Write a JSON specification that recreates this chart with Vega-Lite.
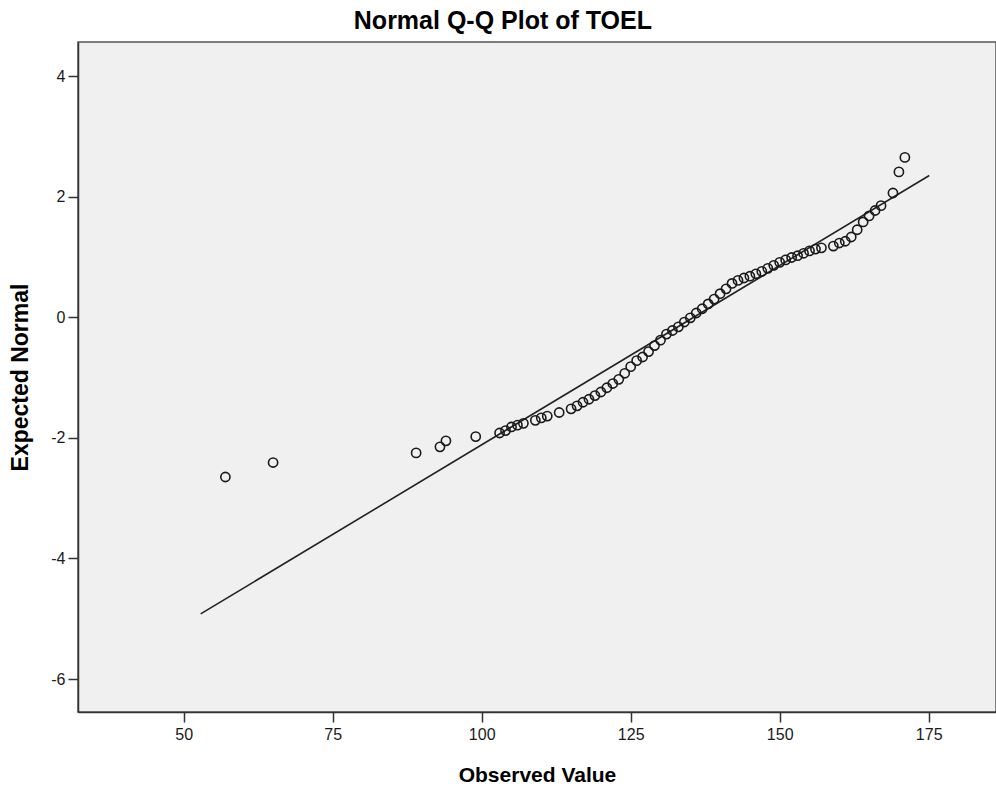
{
  "$schema": "https://vega.github.io/schema/vega-lite/v6.json",
  "width": 918,
  "height": 670,
  "autosize": "none",
  "padding": {"left": 78, "top": 42, "right": 0, "bottom": 81},
  "background": "white",
  "title": {
    "text": "Normal Q-Q Plot of TOEL",
    "font": "Liberation Sans",
    "fontSize": 25,
    "fontWeight": "bold",
    "color": "#000000",
    "anchor": "middle",
    "frame": "bounds",
    "offset": 8
  },
  "config": {
    "view": {"fill": "#F0F0F0", "stroke": "#555555", "strokeWidth": 1.5},
    "axis": {
      "grid": false,
      "labelFont": "Liberation Sans",
      "labelFontSize": 16,
      "labelColor": "#1a1a1a",
      "titleFont": "Liberation Sans",
      "titleFontWeight": "bold",
      "titleColor": "#000000",
      "domainColor": "#333333",
      "domainWidth": 1.5,
      "tickColor": "#333333",
      "tickWidth": 1.5,
      "tickSize": 10
    }
  },
  "datasets": {
    "pts": [
      {"obs": 57, "exp": -2.65},
      {"obs": 65, "exp": -2.41},
      {"obs": 89, "exp": -2.25},
      {"obs": 93, "exp": -2.15},
      {"obs": 94, "exp": -2.05},
      {"obs": 99, "exp": -1.98},
      {"obs": 103, "exp": -1.92},
      {"obs": 104, "exp": -1.88},
      {"obs": 105, "exp": -1.82},
      {"obs": 106, "exp": -1.79},
      {"obs": 107, "exp": -1.76},
      {"obs": 109, "exp": -1.71},
      {"obs": 110, "exp": -1.67},
      {"obs": 111, "exp": -1.64},
      {"obs": 113, "exp": -1.58},
      {"obs": 115, "exp": -1.52},
      {"obs": 116, "exp": -1.47},
      {"obs": 117, "exp": -1.41},
      {"obs": 118, "exp": -1.36},
      {"obs": 119, "exp": -1.30},
      {"obs": 120, "exp": -1.24},
      {"obs": 121, "exp": -1.17},
      {"obs": 122, "exp": -1.10},
      {"obs": 123, "exp": -1.03},
      {"obs": 124, "exp": -0.93},
      {"obs": 125, "exp": -0.82},
      {"obs": 126, "exp": -0.72},
      {"obs": 127, "exp": -0.66},
      {"obs": 128, "exp": -0.57},
      {"obs": 129, "exp": -0.47},
      {"obs": 130, "exp": -0.38},
      {"obs": 131, "exp": -0.28},
      {"obs": 132, "exp": -0.22},
      {"obs": 133, "exp": -0.16},
      {"obs": 134, "exp": -0.08},
      {"obs": 135, "exp": -0.01},
      {"obs": 136, "exp": 0.07},
      {"obs": 137, "exp": 0.14},
      {"obs": 138, "exp": 0.22},
      {"obs": 139, "exp": 0.30},
      {"obs": 140, "exp": 0.39},
      {"obs": 141, "exp": 0.47},
      {"obs": 142, "exp": 0.56},
      {"obs": 143, "exp": 0.61},
      {"obs": 144, "exp": 0.65},
      {"obs": 145, "exp": 0.68},
      {"obs": 146, "exp": 0.72},
      {"obs": 147, "exp": 0.76},
      {"obs": 148, "exp": 0.81},
      {"obs": 149, "exp": 0.86},
      {"obs": 150, "exp": 0.91},
      {"obs": 151, "exp": 0.95},
      {"obs": 152, "exp": 0.99},
      {"obs": 153, "exp": 1.02},
      {"obs": 154, "exp": 1.06},
      {"obs": 155, "exp": 1.10},
      {"obs": 156, "exp": 1.13},
      {"obs": 157, "exp": 1.15},
      {"obs": 159, "exp": 1.18},
      {"obs": 160, "exp": 1.23},
      {"obs": 161, "exp": 1.26},
      {"obs": 162, "exp": 1.33},
      {"obs": 163, "exp": 1.45},
      {"obs": 164, "exp": 1.58},
      {"obs": 165, "exp": 1.68},
      {"obs": 166, "exp": 1.77},
      {"obs": 167, "exp": 1.85},
      {"obs": 169, "exp": 2.06},
      {"obs": 170, "exp": 2.41},
      {"obs": 171, "exp": 2.65}
    ],
    "fit": [
      {"obs": 52.85, "exp": -4.92},
      {"obs": 175.1, "exp": 2.35}
    ]
  },
  "layer": [
    {
      "data": {"name": "fit"},
      "mark": {"type": "line", "color": "#222222", "strokeWidth": 1.6},
      "encoding": {
        "x": {
          "field": "obs", "type": "quantitative",
          "scale": {"domain": [32.27, 186.29], "nice": false, "zero": false},
          "axis": {"title": "Observed Value", "values": [50, 75, 100, 125, 150, 175], "labelExpr": "'' + datum.value", "labelPadding": 4, "titlePadding": 22, "titleFontSize": 21}
        },
        "y": {
          "field": "exp", "type": "quantitative",
          "scale": {"domain": [-6.547, 4.564], "nice": false, "zero": false},
          "axis": {"title": "Expected Normal", "values": [-6, -4, -2, 0, 2, 4], "labelExpr": "'' + datum.value", "labelPadding": 3, "titlePadding": 18, "titleFontSize": 23}
        }
      }
    },
    {
      "data": {"name": "pts"},
      "mark": {"type": "point", "shape": "circle", "filled": false, "size": 85, "stroke": "#1a1a1a", "strokeWidth": 1.6, "opacity": 1},
      "encoding": {
        "x": {"field": "obs", "type": "quantitative"},
        "y": {"field": "exp", "type": "quantitative"}
      }
    }
  ]
}
